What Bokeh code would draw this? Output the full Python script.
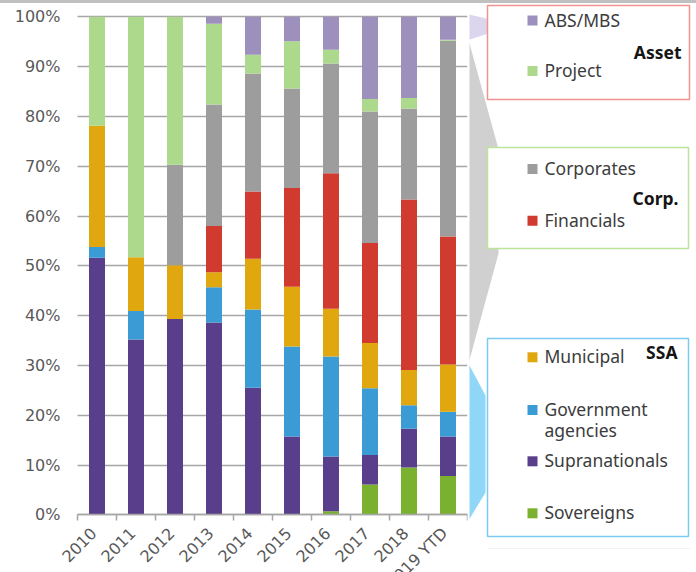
import math
from bokeh.plotting import figure
from bokeh.layouts import row, column
from bokeh.models import Range1d, FixedTicker, PrintfTickFormatter, ColumnDataSource, Div
from bokeh.core.properties import value
from bokeh.embed import file_html
from bokeh.resources import INLINE

# ---------------- data (percent of issuance) ----------------
years = ["2010", "2011", "2012", "2013", "2014", "2015", "2016", "2017", "2018", "2019 YTD"]
sovereigns = [0, 0, 0, 0, 0, 0, 0.7, 6.1, 9.5, 7.8]
supranationals = [51.6, 35.2, 39.3, 38.6, 25.5, 15.7, 11.0, 5.9, 7.8, 7.9]
gov_agencies = [2.2, 5.7, 0, 7.1, 15.7, 18.1, 20.1, 13.4, 4.7, 5.0]
municipal = [24.3, 10.8, 10.8, 3.0, 10.2, 12.0, 9.6, 9.1, 7.1, 9.5]
financials = [0, 0, 0, 9.3, 13.5, 19.8, 27.2, 20.1, 34.2, 25.7]
corporates = [0, 0, 20.2, 24.4, 23.7, 20.0, 22.0, 26.4, 18.3, 39.3]
project = [21.9, 48.3, 29.7, 16.2, 3.8, 9.5, 2.8, 2.5, 2.1, 0.2]
abs_mbs = [0, 0, 0, 1.4, 7.6, 4.9, 6.6, 16.5, 16.3, 4.6]

series_names = ["Sovereigns", "Supranationals", "Government agencies", "Municipal",
                "Financials", "Corporates", "Project", "ABS/MBS"]
series_values = [sovereigns, supranationals, gov_agencies, municipal,
                 financials, corporates, project, abs_mbs]
series_colors = ["#7ab230", "#593f8b", "#3a9bd5", "#e0a80e",
                 "#d13b2f", "#9d9d9d", "#acd98c", "#9d90bd"]
y_ticks = list(range(0, 101, 10))

# ---------------- layout / styling constants ----------------
W, H = 696, 572
STRIPE = 3
GRID = "#a6a6a6"
AXIS_TXT = "#595959"
AXIS_FONT = "DejaVu Sans"
AXIS_SIZE = "16px"
LEG_FONT = "Noto Sans"
ZERO_Y = 514.3          # screen y of 0%
PX_PER_PCT = 4.98       # screen pixels per percentage point
PX_PER_CAT = 39.0       # screen pixels per category
LEFT_W = 469            # width of chart figure
FRAME_L = 60            # screen x of frame left edge
PLOT_L = 77             # screen x where bars area / gridlines begin
PLOT_R = 467            # screen x where bars area ends
LABEL_DROP = 15.5       # px below the axis for rotated year labels
LABEL_SHIFT = -3.5      # px horizontal shift of rotated year labels
TXT_FIX = 7.5           # baseline correction for legend text

n = len(years)
positions = list(range(n))
boundaries = [i - 0.5 for i in range(n + 1)]

src = ColumnDataSource(dict(x=positions, **{nm: v for nm, v in zip(series_names, series_values)}))

x_lo = -0.5 - (PLOT_L - FRAME_L) / PX_PER_CAT
y_lo = -(H - ZERO_Y) / PX_PER_PCT
y_hi = (ZERO_Y - STRIPE) / PX_PER_PCT

p = figure(width=LEFT_W, height=H - STRIPE, x_range=Range1d(x_lo, n - 0.5),
           y_range=Range1d(y_lo, y_hi), output_backend="svg", toolbar_location=None,
           min_border_left=FRAME_L, min_border_right=LEFT_W - PLOT_R,
           min_border_top=0, min_border_bottom=0)
p.outline_line_color = None
p.background_fill_color = "white"
p.border_fill_color = "white"

# gridlines limited to the bar area
p.xgrid.visible = False
grid_ok = True
try:
    p.ygrid.cross_bounds = (-0.5, n - 0.5)
except Exception:
    grid_ok = False
if grid_ok:
    p.ygrid.grid_line_color = GRID
    p.ygrid.grid_line_width = 1.5
else:
    p.ygrid.visible = False
    p.segment(x0=-0.5, x1=n - 0.5, y0=y_ticks, y1=y_ticks, line_color=GRID, line_width=1.5)

p.vbar_stack(series_names, x="x", width=0.41, source=src, color=series_colors, line_color=None)

yax = p.yaxis[0]
yax.ticker = FixedTicker(ticks=y_ticks)
yax.formatter = PrintfTickFormatter(format="%d%%")
yax.axis_line_color = None
yax.major_tick_line_color = None
yax.minor_tick_line_color = None
yax.major_tick_out = 0
yax.major_label_standoff = 0
yax.major_label_text_font = AXIS_FONT
yax.major_label_text_font_size = AXIS_SIZE
yax.major_label_text_color = AXIS_TXT

xax = p.xaxis[0]
xax.ticker = FixedTicker(ticks=positions, minor_ticks=boundaries)
xax.major_label_overrides = {i: "" for i in positions}
xax.bounds = (-0.5, n - 0.5)
xax.major_tick_out = 0
xax.major_tick_in = 0
xax.major_tick_line_color = None
xax.minor_tick_out = 6
xax.minor_tick_in = 0
xax.minor_tick_line_color = GRID
xax.minor_tick_line_width = 1.5
xax.axis_line_color = GRID
xax.axis_line_width = 1.5
xax.fixed_location = 0

# rotated category labels
p.text(x=positions, y=[-LABEL_DROP / PX_PER_PCT] * n, text=years, angle=math.pi / 4,
       x_offset=LABEL_SHIFT, text_align="right", text_baseline="middle",
       text_font=value(AXIS_FONT), text_font_size=AXIS_SIZE, text_color=AXIS_TXT)

# ---------------- right-hand grouped legend panel ----------------
q = figure(width=W - LEFT_W, height=H - STRIPE, x_range=Range1d(LEFT_W, W),
           y_range=Range1d(H, STRIPE), output_backend="svg", toolbar_location=None,
           min_border=0, x_axis_type=None, y_axis_type=None)
q.outline_line_color = None
q.xgrid.visible = False
q.ygrid.visible = False

# connector wedges
q.patch([468, 487, 487, 468], [14, 18.3, 33.3, 39.3], color="#dcd5ee", line_color=None)
q.patch([468, 497, 498, 468], [39.3, 145, 253, 363], color="#d0d0d0", line_color=None)
q.patch([468, 485, 485, 468], [363, 395, 492, 520], color="#8fd6f7", line_color=None)

# group boxes
group_titles = ["Asset", "Corp.", "SSA"]
box_top = [5, 147, 338]
box_bottom = [99, 248, 536]
box_right = [689, 688, 688]
box_colors = ["#f2928f", "#bde39a", "#7ccaf2"]
q.quad(left=487, right=box_right, top=box_top, bottom=box_bottom, fill_color="white",
       line_color=box_colors, line_width=1.5)
q.text(x=[681, 678, 677], y=[59 - TXT_FIX, 205 - TXT_FIX, 359 - TXT_FIX], text=group_titles,
       text_align="right", text_baseline="alphabetic", text_font=value(LEG_FONT),
       text_font_style="bold", text_font_size="17.5px", text_color="#151515")
q.segment(x0=487, x1=690, y0=548, y1=548, line_color="#f2f2f2", line_width=1)

# legend entries (top to bottom)
leg_order = [7, 6, 5, 4, 3, 2, 1, 0]
leg_base = [26.5, 77, 175, 226.7, 363.3, 416, 467.3, 519.3]
leg_names = [series_names[i] for i in leg_order]
leg_cols = [series_colors[i] for i in leg_order]
q.quad(left=527, right=537, top=[b - 11.5 for b in leg_base],
       bottom=[b - 1.5 for b in leg_base], color=leg_cols, line_color=None)

disp_text, disp_y = [], []
for name, b in zip(leg_names, leg_base):
    parts = name.split(" ") if name == "Government agencies" else [name]
    for k, part in enumerate(parts):
        disp_text.append(part)
        disp_y.append(b + 20.5 * k - TXT_FIX)
q.text(x=[544] * len(disp_text), y=disp_y, text=disp_text, text_align="left",
       text_baseline="alphabetic", text_font=value(LEG_FONT),
       text_font_size="17.5px", text_color="#3c3c3c")

stripe = Div(text="", width=W, height=STRIPE, margin=0,
             styles={"background-color": "#c0c0c0"})
layout = column(stripe, row(p, q, spacing=0), spacing=0)
open("out.html", "w").write(file_html(layout, INLINE, "chart"))
